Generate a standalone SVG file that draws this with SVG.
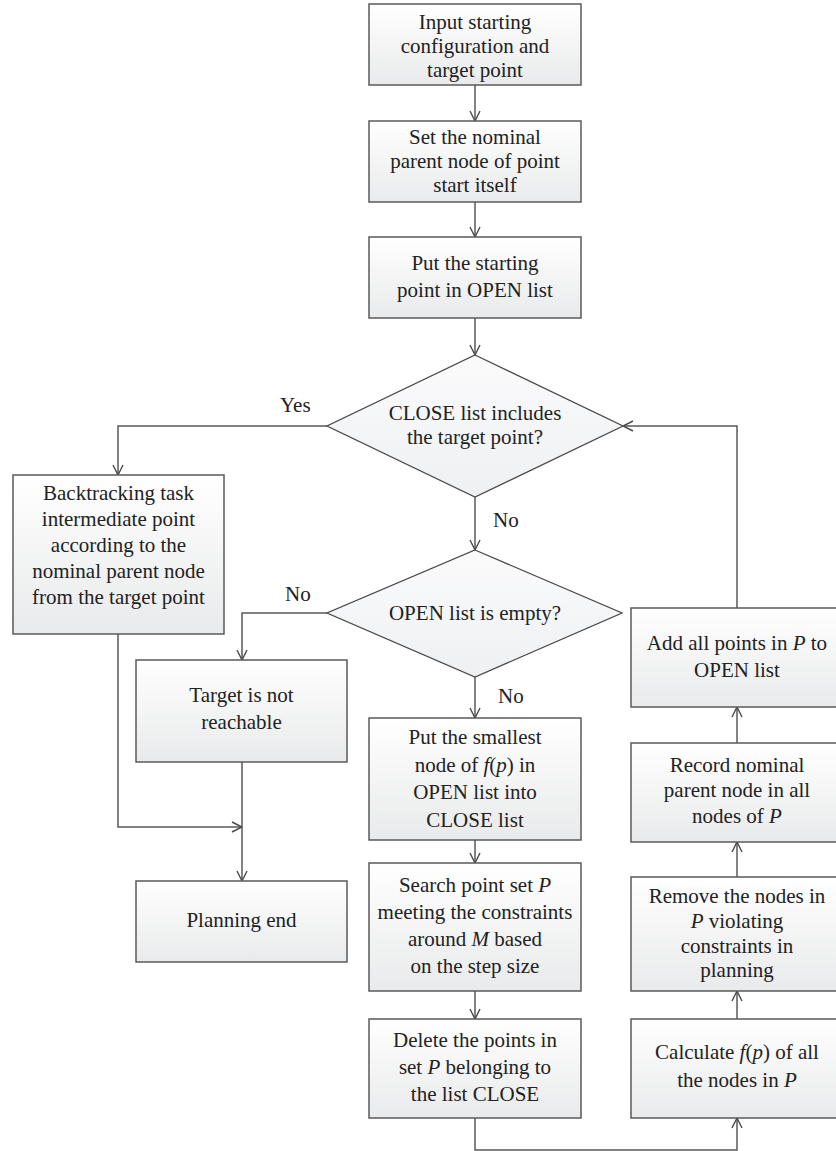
<svg xmlns="http://www.w3.org/2000/svg" width="836" height="1151" viewBox="0 0 836 1151">
<defs>
<linearGradient id="g" x1="0" y1="0" x2="0" y2="1">
<stop offset="0" stop-color="#ffffff"/>
<stop offset="1" stop-color="#e9eaeb"/>
</linearGradient>
<linearGradient id="gd" x1="0" y1="0" x2="0" y2="1">
<stop offset="0" stop-color="#fbfbfc"/>
<stop offset="1" stop-color="#eef0f2"/>
</linearGradient>
<marker id="a" viewBox="0 0 12 12" refX="11" refY="6" markerWidth="12" markerHeight="12" markerUnits="userSpaceOnUse" orient="auto">
<path d="M1,1 L11,6 L1,11" fill="none" stroke="#4a4a4a" stroke-width="1.4"/>
</marker>
</defs>
<style>
.b{fill:url(#g);stroke:#5a5a5a;stroke-width:1.5}
.d{fill:url(#gd);stroke:#4a4a4a;stroke-width:1.3}
.c{fill:none;stroke:#5a5a5a;stroke-width:1.5;marker-end:url(#a)}
.n{fill:none;stroke:#5a5a5a;stroke-width:1.5}
text{font-family:"Liberation Serif","Times New Roman",serif;font-size:21px;fill:#222;text-anchor:middle}
.i{font-style:italic}
.l{text-anchor:start}
</style>
<rect width="836" height="1151" fill="#ffffff"/>
<g id="connectors">
<path class="c" d="M475,85 V121"/>
<path class="c" d="M475,202 V237"/>
<path class="c" d="M475,318 V355"/>
<path class="c" d="M327,426 H118 V475"/>
<path class="c" d="M475,497 V550"/>
<path class="c" d="M327,613 H242 V660"/>
<path class="c" d="M475,677 V718"/>
<path class="c" d="M475,840 V863"/>
<path class="c" d="M475,991 V1019"/>
<path class="c" d="M475,1118 V1150 H737 V1118"/>
<path class="c" d="M737,1019 V991"/>
<path class="c" d="M737,877 V842"/>
<path class="c" d="M737,743 V707"/>
<path class="c" d="M737,608 V426 H623"/>
<path class="c" d="M118,634 V827 H242"/>
<path class="c" d="M242,762 V881"/>
<text class="l" x="280" y="412">Yes</text>
<text class="l" x="493" y="527">No</text>
<text class="l" x="285" y="601">No</text>
<text class="l" x="498" y="703">No</text>
</g>
<g id="input">
<rect class="b" x="369" y="4" width="212" height="81"/>
<text x="475" y="29">Input starting</text>
<text x="475" y="53">configuration and</text>
<text x="475" y="77">target point</text>
</g>
<g id="setparent">
<rect class="b" x="369" y="121" width="212" height="81"/>
<text x="475" y="144">Set the nominal</text>
<text x="475" y="168">parent node of point</text>
<text x="475" y="192">start itself</text>
</g>
<g id="putstart">
<rect class="b" x="369" y="237" width="212" height="81"/>
<text x="475" y="270">Put the starting</text>
<text x="475" y="297">point in OPEN list</text>
</g>
<g id="closecheck">
<polygon class="d" points="475,355 623,426 475,497 327,426"/>
<text x="475" y="420">CLOSE list includes</text>
<text x="475" y="444">the target point?</text>
</g>
<g id="openempty">
<polygon class="d" points="475,550 622,613 475,677 327,613"/>
<text x="475" y="620">OPEN list is empty?</text>
</g>
<g id="backtrack">
<rect class="b" x="13" y="475" width="211" height="159"/>
<text x="118.5" y="500">Backtracking task</text>
<text x="118.5" y="526">intermediate point</text>
<text x="118.5" y="552">according to the</text>
<text x="118.5" y="578">nominal parent node</text>
<text x="118.5" y="604">from the target point</text>
</g>
<g id="notreach">
<rect class="b" x="136" y="660" width="211" height="102"/>
<text x="241.5" y="702">Target is not</text>
<text x="241.5" y="729">reachable</text>
</g>
<g id="planend">
<rect class="b" x="136" y="881" width="211" height="81"/>
<text x="241.5" y="927">Planning end</text>
</g>
<g id="putsmall">
<rect class="b" x="369" y="718" width="212" height="122"/>
<text x="475" y="744">Put the smallest</text>
<text x="475" y="772">node of <tspan class="i">f</tspan>(<tspan class="i">p</tspan>) in</text>
<text x="475" y="799">OPEN list into</text>
<text x="475" y="827">CLOSE list</text>
</g>
<g id="search">
<rect class="b" x="369" y="863" width="212" height="128"/>
<text x="475" y="892">Search point set <tspan class="i">P</tspan></text>
<text x="475" y="919">meeting the constraints</text>
<text x="475" y="946">around <tspan class="i">M</tspan> based</text>
<text x="475" y="973">on the step size</text>
</g>
<g id="delete">
<rect class="b" x="369" y="1019" width="212" height="99"/>
<text x="475" y="1047">Delete the points in</text>
<text x="475" y="1074">set <tspan class="i">P</tspan> belonging to</text>
<text x="475" y="1101">the list CLOSE</text>
</g>
<g id="calc">
<rect class="b" x="631" y="1019" width="212" height="99"/>
<text x="737" y="1059">Calculate <tspan class="i">f</tspan>(<tspan class="i">p</tspan>) of all</text>
<text x="737" y="1087">the nodes in <tspan class="i">P</tspan></text>
</g>
<g id="remove">
<rect class="b" x="631" y="877" width="212" height="114"/>
<text x="737" y="903">Remove the nodes in</text>
<text x="737" y="928"><tspan class="i">P</tspan> violating</text>
<text x="737" y="953">constraints in</text>
<text x="737" y="977">planning</text>
</g>
<g id="record">
<rect class="b" x="631" y="743" width="212" height="99"/>
<text x="737" y="772">Record nominal</text>
<text x="737" y="797">parent node in all</text>
<text x="737" y="823">nodes of <tspan class="i">P</tspan></text>
</g>
<g id="addall">
<rect class="b" x="631" y="608" width="212" height="99"/>
<text x="737" y="650">Add all points in <tspan class="i">P</tspan> to</text>
<text x="737" y="677">OPEN list</text>
</g>
</svg>
